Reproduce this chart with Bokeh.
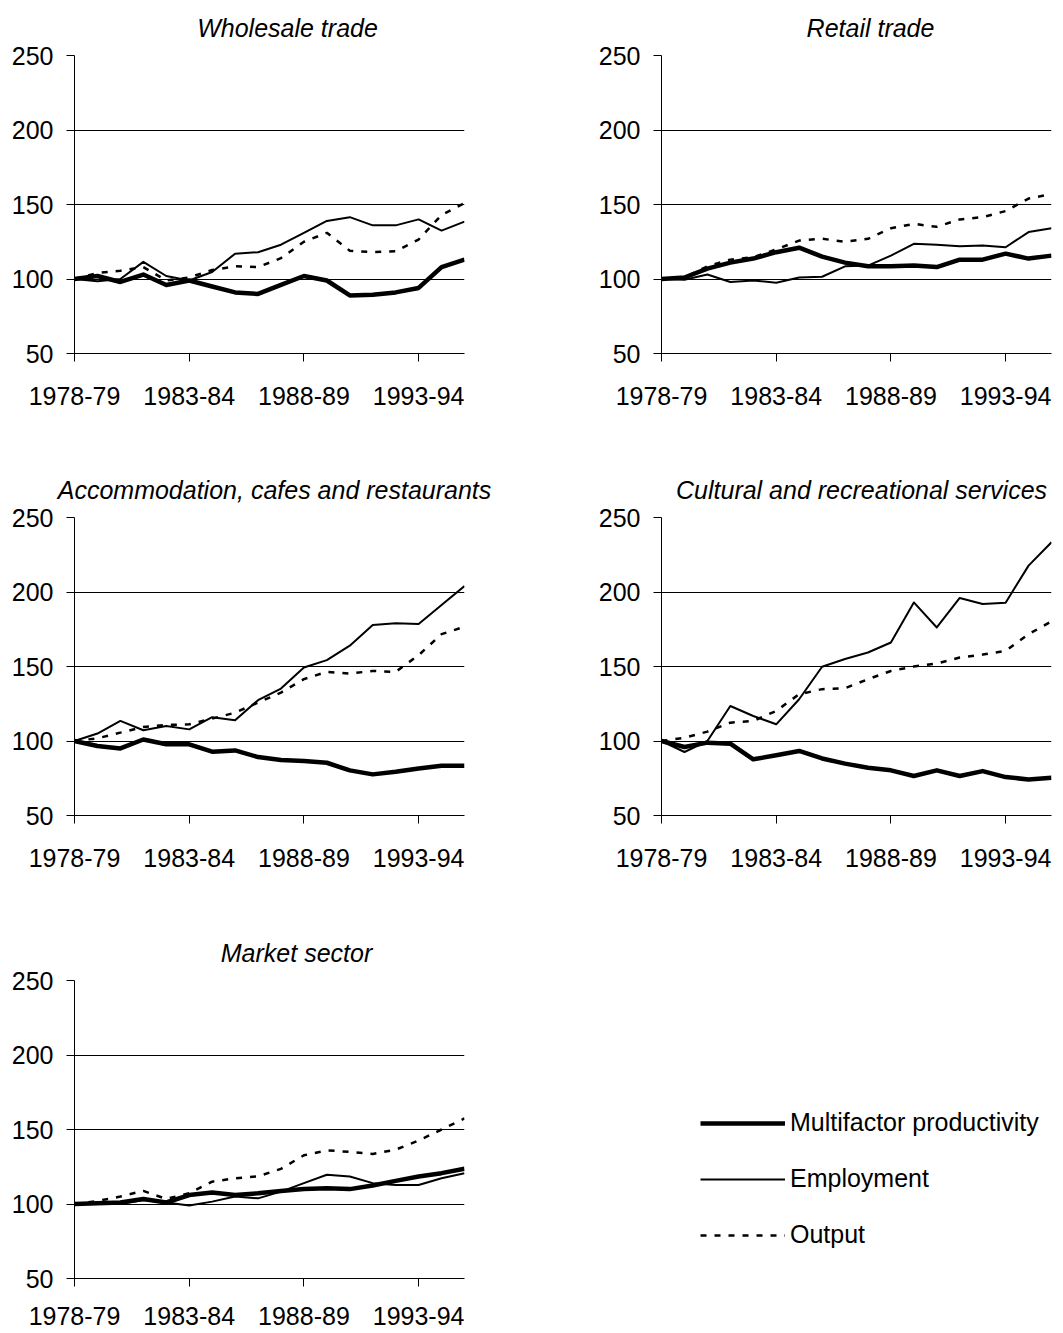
from bokeh.plotting import figure
from bokeh.layouts import column, row
from bokeh.models import Range1d, FixedTicker, Title, Legend, LegendItem
from bokeh.embed import file_html
from bokeh.resources import INLINE

years = ["1978-79", "1979-80", "1980-81", "1981-82", "1982-83", "1983-84",
         "1984-85", "1985-86", "1986-87", "1987-88", "1988-89", "1989-90",
         "1990-91", "1991-92", "1992-93", "1993-94", "1994-95", "1995-96"]
tick_years = ["1978-79", "1983-84", "1988-89", "1993-94"]
y_ticks = [50, 100, 150, 200, 250]

series_names = ["Multifactor productivity", "Employment", "Output"]

wholesale_mfp = [100, 102, 98, 103, 96, 99, 95, 91, 90, 96, 102, 99, 89, 89.5, 91, 94, 108, 113]
wholesale_emp = [100, 98.5, 100, 111.5, 102, 99, 104.7, 117, 118, 123, 131, 139, 141.5, 136, 136, 140, 132.5, 138.5]
wholesale_out = [100, 104, 105.6, 108, 99, 101, 106, 108.5, 108, 114, 125, 131, 119, 118, 118.6, 126.5, 143, 151]

retail_mfp = [100, 101, 107, 111, 113.7, 118, 121, 115, 111, 108.5, 108.5, 109, 108, 113, 113, 117, 113.7, 115.7]
retail_emp = [100, 99.5, 103, 98, 99, 97.5, 101, 101.5, 108.5, 109, 115.7, 123.6, 123, 122, 122.5, 121.3, 131.5, 134]
retail_out = [100, 101, 108.5, 113, 114.6, 119.8, 125.8, 127, 125, 127, 134, 137, 135, 140, 141.5, 145.6, 154, 157]

accom_mfp = [100, 96.6, 95, 101, 97.8, 97.8, 92.8, 93.7, 89.2, 87.2, 86.5, 85.4, 80.3, 77.6, 79.4, 81.6, 83.4, 83.4]
accom_emp = [100, 105, 113.5, 107.2, 110, 107.8, 116, 114, 127.4, 135.2, 149.3, 154.3, 164, 177.8, 179, 178.5, 191.3, 204]
accom_out = [100, 101.8, 105.6, 109.4, 110.8, 111.2, 115, 119, 125.8, 132.5, 141.5, 146.4, 145.3, 147, 146.4, 157.6, 171.7, 176.7]

cultural_mfp = [100, 96, 98.9, 98.2, 87.7, 90.4, 93.3, 88.3, 84.8, 82, 80.3, 76.5, 80.3, 76.5, 79.8, 75.8, 74.2, 75.3]
cultural_emp = [100, 92.6, 100, 123.5, 116.8, 111.2, 128, 149.8, 155, 159.4, 166.1, 193, 176.2, 196, 192, 192.8, 217.7, 233.4]
cultural_out = [100, 102.2, 106.3, 112.3, 113.5, 120.2, 131.4, 134.8, 135.4, 141.5, 147, 150, 152, 156, 158, 160.5, 171.7, 180.3]

market_mfp = [100, 100.5, 101, 103.4, 101, 106, 107.7, 106, 107.2, 108.8, 110, 110.6, 110, 112.4, 115.5, 118.5, 120.7, 123.6]
market_emp = [100, 100, 100, 102.7, 101, 99, 101.6, 105, 103.8, 108.3, 114, 119.6, 118.5, 114, 112.8, 112.8, 117.3, 120.7]
market_out = [100, 102, 105, 108.8, 103.4, 107.2, 115, 117.3, 118.5, 123.6, 132.7, 136, 135, 133.6, 136.5, 142.6, 150, 157.4]

FONT = "Liberation Sans"
TICK_SIZE = "25px"
TITLE_PX = 25

# Arial / Liberation Sans advance widths (per 1000 em) for the title characters
CHAR_W = {" ": 278, ",": 278, "A": 667, "C": 722, "M": 833, "R": 722, "W": 944,
          "a": 556, "c": 500, "d": 556, "e": 556, "f": 278, "h": 556, "i": 222,
          "k": 500, "l": 222, "m": 833, "n": 556, "o": 556, "r": 333, "s": 500,
          "t": 278, "u": 556, "v": 500}


def text_width(s, px):
    return sum(CHAR_W.get(ch, 556) for ch in s) * px / 1000.0


STYLES = [
    dict(line_width=4.5, line_color="black", line_join="round"),
    dict(line_width=2, line_color="black", line_join="round"),
    dict(line_width=2.5, line_color="black", line_dash="6 8"),
]

FRAME_W = 390
FRAME_H = 298
B_LEFT = 74
B_TOP = 55


def panel(title, series, title_center, width, height, b_right, b_bottom, x_standoff=25):
    p = figure(width=width, height=height, output_backend="svg", toolbar_location=None,
               x_range=Range1d(0, len(years) - 1), y_range=Range1d(50, 250),
               min_border_left=B_LEFT, min_border_right=b_right,
               min_border_top=B_TOP, min_border_bottom=b_bottom)
    p.outline_line_color = None
    p.background_fill_color = "white"
    p.border_fill_color = "white"
    p.xgrid.visible = False
    p.ygrid.grid_line_color = "black"
    p.ygrid.grid_line_width = 1
    p.ygrid.ticker = FixedTicker(ticks=y_ticks)

    p.yaxis.ticker = FixedTicker(ticks=y_ticks)
    tick_idx = [years.index(t) for t in tick_years]
    p.xaxis.ticker = FixedTicker(ticks=tick_idx)
    p.xaxis.major_label_overrides = {i: years[i] for i in tick_idx}
    for ax in (p.xaxis, p.yaxis):
        ax.axis_line_color = "black"
        ax.axis_line_width = 1
        ax.major_tick_line_color = "black"
        ax.major_tick_out = 8
        ax.major_tick_in = 0
        ax.minor_tick_line_color = None
        ax.major_label_text_font = FONT
        ax.major_label_text_font_size = TICK_SIZE
        ax.major_label_text_color = "black"
    p.xaxis.major_label_standoff = x_standoff
    p.yaxis.major_label_standoff = 13

    xs = list(range(len(years)))
    for vals, st in zip(reversed(series), reversed(STYLES)):
        p.line(xs, vals, **st)

    off = title_center - text_width(title, TITLE_PX) / 2.0
    p.add_layout(Title(text=title, align="left", offset=off, text_font=FONT,
                       text_font_size=f"{TITLE_PX}px", text_font_style="italic",
                       text_color="black", standoff=24, vertical_align="top"), "above")
    return p


LEFT_W = 587
RIGHT_BR = 4
LEFT_BR = LEFT_W - B_LEFT - FRAME_W
RIGHT_W = B_LEFT + FRAME_W + RIGHT_BR
ROW1_H = 462
ROW2_H = 463
LAST_H = 404

p1 = panel("Wholesale trade", [wholesale_mfp, wholesale_emp, wholesale_out], 213,
           LEFT_W, ROW1_H, LEFT_BR, ROW1_H - B_TOP - FRAME_H)
p2 = panel("Retail trade", [retail_mfp, retail_emp, retail_out], 209,
           RIGHT_W, ROW1_H, RIGHT_BR, ROW1_H - B_TOP - FRAME_H)
p3 = panel("Accommodation, cafes and restaurants", [accom_mfp, accom_emp, accom_out], 200,
           LEFT_W, ROW2_H, LEFT_BR, ROW2_H - B_TOP - FRAME_H)
p4 = panel("Cultural and recreational services", [cultural_mfp, cultural_emp, cultural_out], 200,
           RIGHT_W, ROW2_H, RIGHT_BR, ROW2_H - B_TOP - FRAME_H)
p5 = panel("Market sector", [market_mfp, market_emp, market_out], 222,
           LEFT_W, LAST_H, LEFT_BR, LAST_H - B_TOP - FRAME_H, x_standoff=20)

# legend panel
pl = figure(width=RIGHT_W, height=LAST_H, output_backend="svg", toolbar_location=None,
            x_range=Range1d(0, 1), y_range=Range1d(0, 1),
            min_border_left=0, min_border_right=0, min_border_top=0, min_border_bottom=0)
pl.axis.visible = False
pl.grid.visible = False
pl.outline_line_color = None
items = []
for name, st in zip(series_names, STYLES):
    r = pl.line(x=[float("nan")], y=[float("nan")], **st)
    items.append(LegendItem(label=name, renderers=[r]))
leg = Legend(items=items, location=(113, 29), glyph_width=85, glyph_height=20,
             label_height=20, label_standoff=5, spacing=27, padding=0, margin=0,
             border_line_color=None, background_fill_alpha=0,
             label_text_font=FONT, label_text_font_size="25px", label_text_color="black")
pl.add_layout(leg)

layout = column(row(p1, p2), row(p3, p4), row(p5, pl))
open("out.html", "w").write(file_html(layout, INLINE))
